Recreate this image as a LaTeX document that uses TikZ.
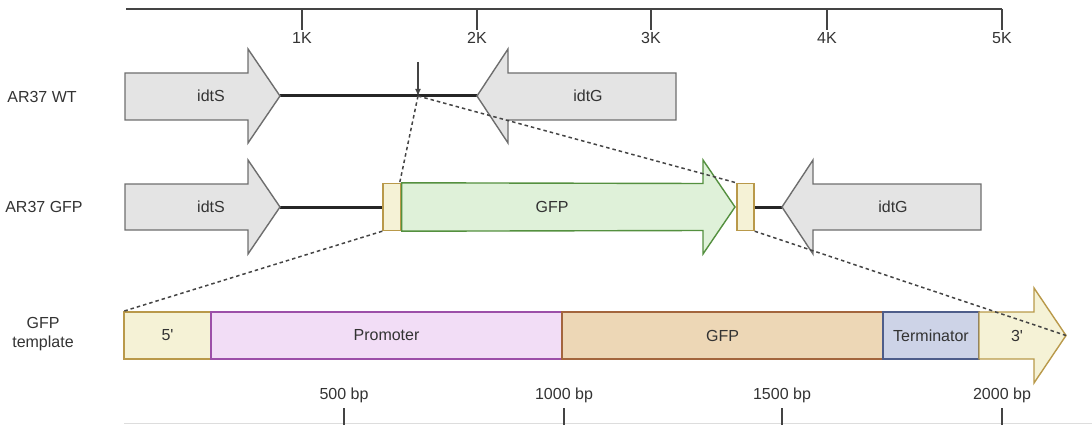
\documentclass[tikz,border=0pt]{standalone}
\usepackage{fontspec}
\setmainfont{Liberation Sans}
\usetikzlibrary{arrows.meta}
\definecolor{txt}{HTML}{333333}
\definecolor{axisc}{HTML}{444444}
\definecolor{grayfill}{HTML}{E4E4E4}
\definecolor{graydraw}{HTML}{6E6E6E}
\definecolor{yelfill}{HTML}{F5F2D6}
\definecolor{yeldraw}{HTML}{B9994A}
\definecolor{grnfill}{HTML}{DFF1D9}
\definecolor{grndraw}{HTML}{54903F}
\definecolor{pnkfill}{HTML}{F2DDF6}
\definecolor{pnkdraw}{HTML}{9C4FA8}
\definecolor{tanfill}{HTML}{EDD7B6}
\definecolor{tandraw}{HTML}{A3653D}
\definecolor{blufill}{HTML}{CDD3E7}
\definecolor{bludraw}{HTML}{4E5D8A}
\definecolor{lightline}{HTML}{DDDDDD}
\tikzset{
  lbl/.style={text=txt, inner sep=0pt},
  gene/.style={draw=graydraw, fill=grayfill, line width=1.4pt, line join=miter},
  backbone/.style={draw=black!85, line width=3pt},
  flank/.style={draw=yeldraw, fill=yelfill, line width=1.4pt, inner sep=0pt, text=txt},
  seg/.style={line width=1.4pt, inner sep=0pt, minimum height=47pt, text=txt},
  zoomline/.style={draw=axisc, line width=1.5pt, dash pattern=on 3.5pt off 3pt},
  axisline/.style={draw=axisc, line width=1.6pt},
  tick/.style={draw=axisc, line width=1.6pt}
}
\begin{document}
\begin{tikzpicture}[x=1pt,y=-1pt, font=\fontsize{16}{19}\selectfont]
\useasboundingbox (0,0) rectangle (1092,425);

% ---------- top axis ----------
\coordinate (ax0) at (126,9);
\coordinate (ax5) at (1002,9);
\draw[axisline] (ax0) -- (ax5);
\foreach \x/\t [count=\i] in {302/1K,477/2K,651/3K,827/4K,1002/5K}{
  \coordinate (tk\i) at (\x,9);
  \coordinate (tb\i) at (\x,30);
  \draw[tick] (tk\i) -- (tb\i);
  \node[lbl] (kl\i) at (\x,38) {\t};
}

% ---------- row labels ----------
\node[lbl] (wtlab) at (42,97) {AR37 WT};
\node[lbl] (gfplab) at (44,207) {AR37 GFP};
\node[lbl, align=center] (tmplab) at (43,334) {GFP\\template};

% ---------- row 1: AR37 WT ----------
\coordinate (s1tip) at (280,96);
\coordinate (g1tip) at (477,96);
\draw[backbone] (s1tip) -- (g1tip);
\draw[gene] (125,73) -- (248,73) -- (248,49) -- (s1tip) -- (248,143) -- (248,120) -- (125,120) -- cycle;
\draw[gene] (676,73) -- (508,73) -- (508,49) -- (g1tip) -- (508,143) -- (508,120) -- (676,120) -- cycle;
\node[lbl] (s1lab) at (211,96) {idtS};
\node[lbl] (g1lab) at (588,96) {idtG};
\coordinate (cut) at (418,96);
\coordinate (cuttop) at (418,62);
\draw[draw=axisc, line width=1.2pt, -{Latex[length=7pt,width=6pt]}] (cuttop) -- (cut);

% ---------- row 2: AR37 GFP ----------
\coordinate (s2tip) at (280,207);
\coordinate (g2tip) at (782,207);
\node[flank, minimum width=18pt, minimum height=47pt] (box1) at (392,207) {};
\node[flank, minimum width=17pt, minimum height=47pt] (box2) at (745.5,207) {};
\draw[backbone] (s2tip) -- (box1.west);
\draw[backbone] (box2.east) -- (g2tip);
\draw[gene] (125,184) -- (248,184) -- (248,160) -- (s2tip) -- (248,254) -- (248,230) -- (125,230) -- cycle;
\draw[gene] (981,184) -- (813,184) -- (813,160) -- (g2tip) -- (813,254) -- (813,230) -- (981,230) -- cycle;
\coordinate (gfptip) at (735,207);
\draw[draw=grndraw, fill=grnfill, line width=1.4pt, line join=miter]
  (box1.north east) -- (703,183.5) -- (703,160) -- (gfptip) -- (703,254) -- (703,230.5) -- (box1.south east) -- cycle;
\node[lbl] (s2lab) at (211,207) {idtS};
\node[lbl] (gfp2lab) at (552,207) {GFP};
\node[lbl] (g2lab) at (893,207) {idtG};

% ---------- row 3: GFP template ----------
\node[flank, minimum width=87pt, minimum height=47pt] (five) at (167.5,335.5) {5\textquotesingle};
\node[seg, draw=pnkdraw, fill=pnkfill, minimum width=351pt] (prom) at (386.5,335.5) {Promoter};
\node[seg, draw=tandraw, fill=tanfill, minimum width=321pt] (gfp3) at (722.5,335.5) {GFP};
\node[seg, draw=bludraw, fill=blufill, minimum width=96pt] (term) at (931,335.5) {Terminator};
\coordinate (threetip) at (1066,335.5);
\draw[draw=yeldraw, fill=yelfill, line width=1.4pt, line join=miter]
  (979,312) -- (1034,312) -- (1034,288) -- (threetip) -- (1034,383) -- (1034,359) -- (979,359) -- cycle;
\node[lbl] (threelab) at (1017,335.5) {3\textquotesingle};

% ---------- zoom (dashed) connectors ----------
\draw[zoomline] (cut) -- ([xshift=-2pt]box1.north east);
\draw[zoomline] (cut) -- (box2.north west);
\draw[zoomline] (box1.south west) -- (five.north west);
\draw[zoomline] (box2.south east) -- (threetip);

% ---------- bottom axis ----------
\coordinate (bl0) at (124,423);
\coordinate (bl1) at (1092,423);
\draw[draw=lightline, line width=1pt] (bl0) -- (bl1);
\foreach \x/\t [count=\i] in {344/500 bp,564/1000 bp,782/1500 bp,1002/2000 bp}{
  \coordinate (bt\i) at (\x,408);
  \coordinate (bb\i) at (\x,425);
  \draw[tick] (bt\i) -- (bb\i);
  \node[lbl] (bpl\i) at (\x,395) {\t};
}
\end{tikzpicture}
\end{document}
